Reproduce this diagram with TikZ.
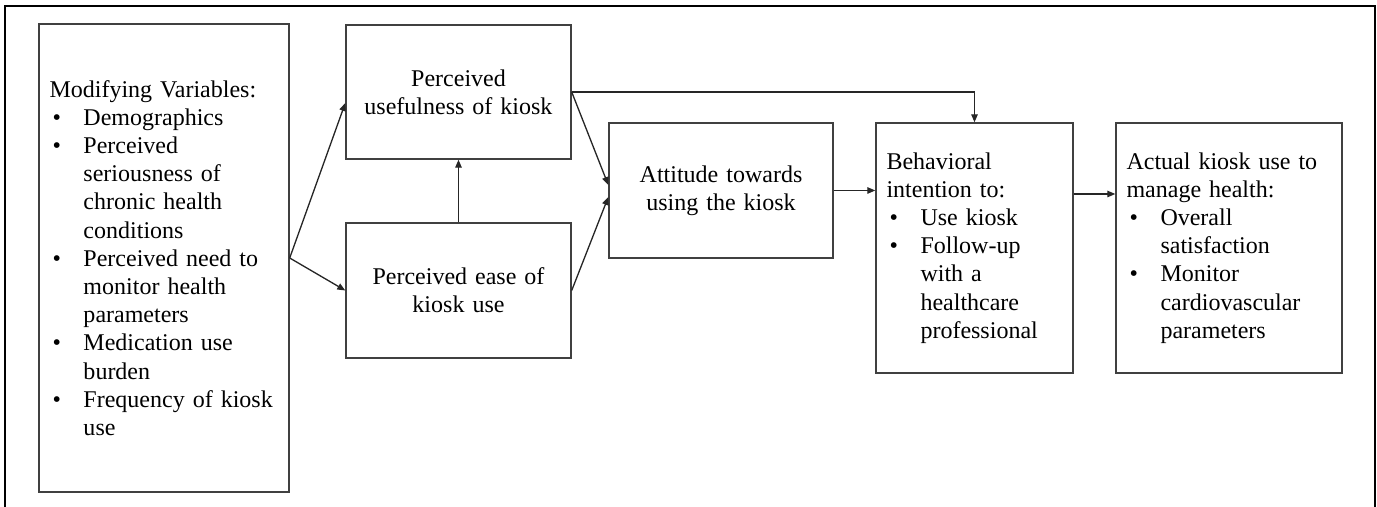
\documentclass[tikz,border=0pt]{standalone}
\usepackage{fontspec}
\setmainfont{Liberation Serif}
\usetikzlibrary{arrows.meta}
\newcommand{\itm}{\makebox[0.68cm][l]{\hspace{0.06cm}\textbullet}}
\newcommand{\ind}{\makebox[0.68cm]{}}

\begin{document}
\begin{tikzpicture}[>={Triangle[length=0.16cm,width=0.13cm]},
  box/.style={draw=black!75,line width=0.8pt,inner xsep=0.21cm,inner ysep=0pt,
    font=\fontsize{13.66pt}{16.05pt}\selectfont},
  arr/.style={->,draw=black!85,line width=0.75pt}]

\useasboundingbox (0,0) rectangle (27.54,10.14);
\draw[line width=1.4pt] (0.10,-0.2) -- (0.10,10.02) -- (27.50,10.02) -- (27.50,-0.2);

\node[box,align=left,text width=4.58cm,minimum height=9.36cm] (mod) at (3.28,4.98)
  {Modifying Variables:\\
   \itm Demographics\\
   \itm Perceived\\
   \ind seriousness of\\
   \ind chronic health\\
   \ind conditions\\
   \itm Perceived need to\\
   \ind monitor health\\
   \ind parameters\\
   \itm Medication use\\
   \ind burden\\
   \itm Frequency of kiosk\\
   \ind use};
\node[box,align=center,text width=4.08cm,minimum height=2.68cm] (useful) at (9.17,8.30)
  {Perceived\\usefulness of kiosk};
\node[box,align=center,text width=4.08cm,minimum height=2.7cm] (ease) at (9.17,4.33)
  {Perceived ease of\\kiosk use};
\node[box,align=center,text width=4.06cm,minimum height=2.7cm] (att) at (14.42,6.33)
  {Attitude towards\\using the kiosk};
\node[box,align=left,text width=3.52cm,minimum height=5cm] (beh) at (19.49,5.18)
  {Behavioral\\
   intention to:\\
   \itm Use kiosk\\
   \itm Follow-up\\
   \ind with a\\
   \ind healthcare\\
   \ind professional};
\node[box,align=left,text width=4.10cm,minimum height=5cm] (act) at (24.58,5.18)
  {Actual kiosk use to\\
   manage health:\\
   \itm Overall\\
   \ind satisfaction\\
   \itm Monitor\\
   \ind cardiovascular\\
   \ind parameters};

\draw[arr] (mod.east) -- ([yshift=-0.22cm]useful.west);
\draw[arr] (mod.east) -- (ease.west);
\draw[arr] (ease.north) -- (useful.south);
\draw[arr] (useful.east) -- ([yshift=0.11cm]att.west);
\draw[arr] (ease.east) -- ([yshift=-0.13cm]att.west);
\draw[arr] (useful.east) -| (beh.north);
\draw[arr] (att.east) -- (att.east -| beh.west);
\draw[arr] ([yshift=1.08cm]beh.east) -- ([yshift=1.08cm]act.west);

\end{tikzpicture}
\end{document}
